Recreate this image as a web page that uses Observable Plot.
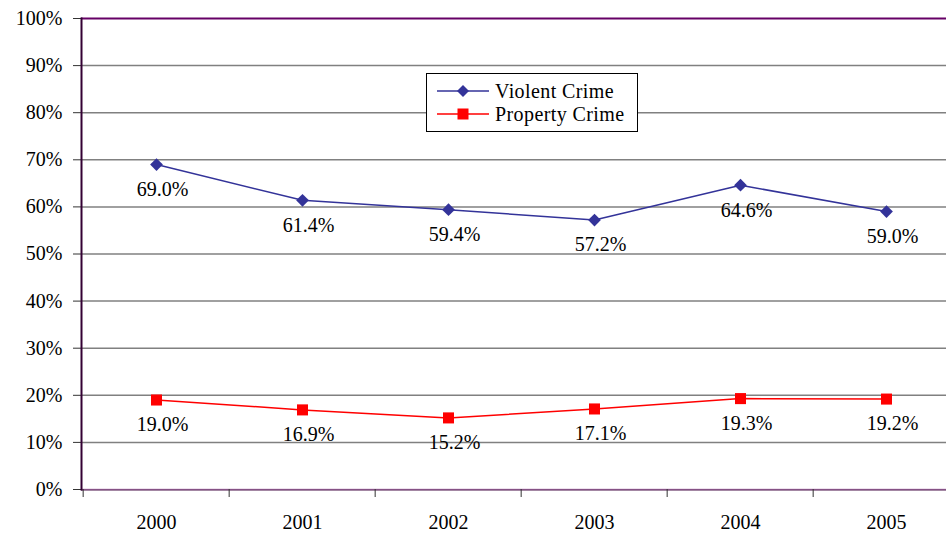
<!DOCTYPE html>
<html>
<head>
<meta charset="utf-8">
<script src="https://cdn.jsdelivr.net/npm/d3@7"></script>
<script src="https://cdn.jsdelivr.net/npm/@observablehq/plot@0.6"></script>
</head>
<body style="margin:0;padding:0;background:#fff;font-family:'Liberation Serif','Times New Roman',serif">
<div id="wrap" style="position:relative;width:946px;height:535px;overflow:hidden">
<div id="legend" style="position:absolute;left:426px;top:73px;width:210px;height:57px;border:1px solid #000;background:#fff;font-family:'Liberation Serif';font-size:20px;color:#000;z-index:2"></div>
</div>
<script>
const years = ["2000", "2001", "2002", "2003", "2004", "2005"];
const violent = [69.0, 61.4, 59.4, 57.2, 64.6, 59.0];
const property = [19.0, 16.9, 15.2, 17.1, 19.3, 19.2];
const yTicks = [0, 10, 20, 30, 40, 50, 60, 70, 80, 90, 100];
const seriesNames = ["Violent Crime", "Property Crime"];
const seriesColors = ["#333399", "#ff0000"];

(function () {
const diamond = {draw(ctx, size) { const h = Math.sqrt(size) * 0.6; ctx.moveTo(0, -h); ctx.lineTo(h, 0); ctx.lineTo(0, h); ctx.lineTo(-h, 0); ctx.closePath(); }};
const square = {draw(ctx, size) { const h = Math.sqrt(size) * 0.52; ctx.rect(-h, -h, 2 * h, 2 * h); }};

const rows = [];
years.forEach((y, i) => {
  rows.push({year: y, value: violent[i], series: seriesNames[0]});
  rows.push({year: y, value: property[i], series: seriesNames[1]});
});

const W = 946, H = 535;
const mLeft = 81, mTop = 18, yBottom = 489;
const bw = (961 - mLeft) / years.length;
const FF = "'Liberation Serif', 'Times New Roman', Tinos, serif";

const chart = Plot.plot({
  width: W,
  height: H,
  marginLeft: mLeft,
  marginRight: 0,
  marginTop: mTop,
  marginBottom: H - yBottom,
  style: {fontFamily: FF, fontSize: "20px", background: "#fff"},
  x: {type: "band", domain: years, range: [mLeft, mLeft + bw * years.length], padding: 0},
  y: {domain: [0, 100], range: [yBottom, mTop]},
  color: {domain: seriesNames, range: seriesColors},
  symbol: {domain: seriesNames, range: [diamond, square]},
  marks: [
    Plot.gridY(yTicks.filter(d => d > 0 && d < 100), {stroke: "#808080", strokeOpacity: 1, strokeWidth: 1.5}),
    Plot.ruleY([100], {stroke: "#660066", strokeWidth: 2}),
    Plot.ruleY([0], {stroke: "#bb88bb", strokeWidth: 1.5}),
    Plot.ruleY([0], {stroke: "#330033", strokeWidth: 0.8, dy: 0.5}),
    Plot.axisY({ticks: yTicks, tickFormat: d => d + "%", tickSize: 8, tickPadding: 11, label: null,
      fontSize: 20, fontFamily: FF, stroke: "#333", fill: "#000"}),
    Plot.axisX({tickSize: 8, tickFormat: () => "", dx: -bw / 2, label: null, stroke: "#333"}),
    Plot.axisX({tickSize: 0, tickPadding: 25, label: null, fontSize: 20, fontFamily: FF, fill: "#000"}),
    Plot.frame({anchor: "left", stroke: "#330033", strokeWidth: 2}),
    Plot.lineY(rows, {x: "year", y: "value", z: "series", stroke: "series", strokeWidth: 1.5}),
    Plot.dot(rows, {x: "year", y: "value", symbol: "series", fill: "series", stroke: null, r: 6}),
    Plot.text(rows, {x: "year", y: "value", text: d => d.value.toFixed(1) + "%", dy: 25, dx: 6,
      fontSize: 20, fontFamily: FF, fill: "#000"})
  ]
});

const wrap = document.getElementById("wrap");
wrap.insertBefore(chart, wrap.firstChild);

const legend = document.getElementById("legend");
seriesNames.forEach((name, i) => {
  const row = document.createElement("div");
  Object.assign(row.style, {position: "absolute", left: "10px", top: (6 + i * 23) + "px", height: "22px",
    display: "flex", alignItems: "center"});
  const sym = i === 0
    ? `<path d="M26,5 L32,11 L26,17 L20,11 Z" fill="${seriesColors[i]}"/>`
    : `<rect x="20.5" y="5.5" width="11" height="11" fill="${seriesColors[i]}"/>`;
  row.innerHTML = `<svg width="52" height="22"><line x1="0" y1="11" x2="52" y2="11" stroke="${seriesColors[i]}" stroke-width="1.5"/>${sym}</svg><span style="margin-left:6px;letter-spacing:0.4px">${name}</span>`;
  legend.appendChild(row);
});
})();
</script>
</body>
</html>
